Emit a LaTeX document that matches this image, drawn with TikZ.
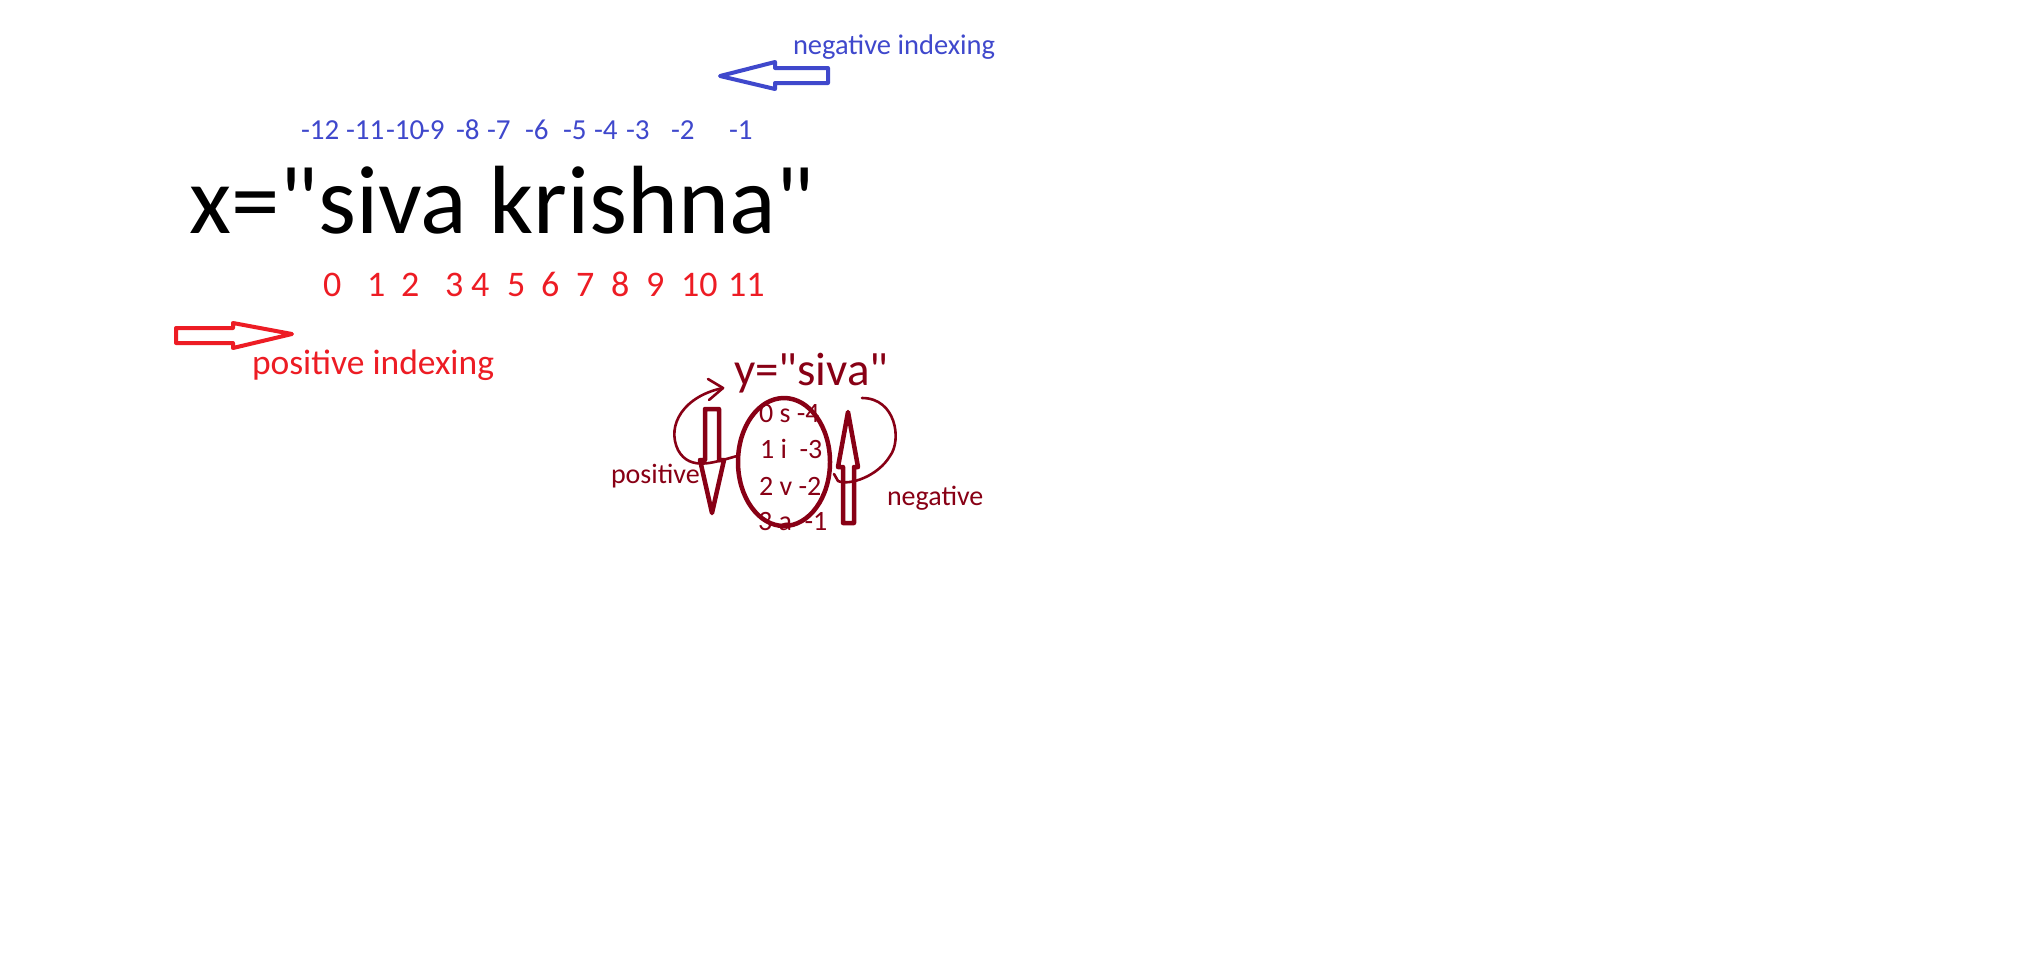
\documentclass[tikz,border=0pt]{standalone}
\usepackage{fontspec}
\setmainfont{Carlito}[Ligatures=TeXOff]
\definecolor{pblue}{HTML}{3F48CC}
\definecolor{pred}{HTML}{ED1C24}
\definecolor{pdark}{HTML}{880015}
\begin{document}
\begin{tikzpicture}[x=1pt,y=-1pt,
  txt/.style={inner sep=0pt, outer sep=0pt, anchor=base west},
  bignum/.style={txt, text=pblue, font=\fontsize{29}{35}\selectfont},
  posnum/.style={txt, text=pred, font=\fontsize{36}{43}\selectfont},
  small/.style={txt, text=pdark, font=\fontsize{28}{34}\selectfont},
  blockarrow/.style={line width=4pt, line join=round},
  curve/.style={pdark, line width=2.6pt, line cap=round, line join=round}]
\useasboundingbox[fill=white] (0,0) rectangle (2026,962);

% main string
\node[txt, font=\fontsize{97}{116}\selectfont] (xstr) at (189,233) {x=\symbol{34}siva krishna\symbol{34}};

% negative indices
\foreach \n/\px [count=\i] in {-12/302,-11/347,-10/387,-9/422,-8/457,-7/488,-6/526,-5/564,-4/595,-3/627,-2/672,-1/730}
  \node[bignum] (neg\i) at (\px-1,139) {\n};

% positive indices
\foreach \n/\px [count=\i] in {0/323,1/367,2/401,3/445,4/471,5/507,6/541,7/576,8/611,9/646,10/681,11/728}
  \node[posnum] (pos\i) at (\px,296) {\n};

% negative indexing label + arrow
\node[txt, text=pblue, font=\fontsize{28.5}{34}\selectfont] (neglabel) at (793,54) {negative indexing};
\draw[pblue, blockarrow] (720,76) -- (775,62) -- (775,68) -- (828,68) -- (828,83) -- (775,83) -- (775,89) -- cycle;

% positive indexing label + arrow
\node[txt, text=pred, font=\fontsize{35.5}{42}\selectfont] (poslabel) at (252,374) {positive indexing};
\draw[pred, blockarrow] (176,328) -- (233,328) -- (233,323) -- (292,334) -- (233,348) -- (233,343) -- (176,343) -- cycle;

% y = "siva"
\node[txt, text=pdark, font=\fontsize{47}{56}\selectfont] (ystr) at (734,385) {y=\symbol{34}siva\symbol{34}};
\node[small] (r0) at (759,422) {0 s -4};
\node[small] (r1) at (760,458) {1 i\ \ -3};
\node[small] (r2) at (759,495) {2 v -2};
\node[small] (r3) at (758,530) {3 a\ \ -1};

\node[small] (plabel) at (611,483) {positive};
\node[small] (nlabel) at (887,505) {negative};

% ellipse around indices
\draw[pdark, line width=4.5pt] (784,462) ellipse [x radius=46pt, y radius=64pt];

% down arrow (positive)
\draw[pdark, line width=4.5pt, line join=round] (705,409) -- (719,409) -- (719,460) -- (724,460) -- (712,513) -- (700,460) -- (705,460) -- cycle;
% up arrow (negative)
\draw[pdark, line width=4.5pt, line join=round] (848,412) -- (858,467) -- (854,467) -- (854,523) -- (843,523) -- (843,467) -- (838,467) -- cycle;

% left looping arrow
\draw[curve] (737,456) .. controls (715,462) and (690,472) .. (678,450) .. controls (666,425) and (684,396) .. (723,388);
\draw[curve] (708,379) -- (723,388) -- (709,400);

% right loop
\draw[curve] (862,398) .. controls (896,398) and (902,440) .. (890,456) .. controls (878,476) and (850,486) .. (838,481) -- (834,474);
\end{tikzpicture}
\end{document}
